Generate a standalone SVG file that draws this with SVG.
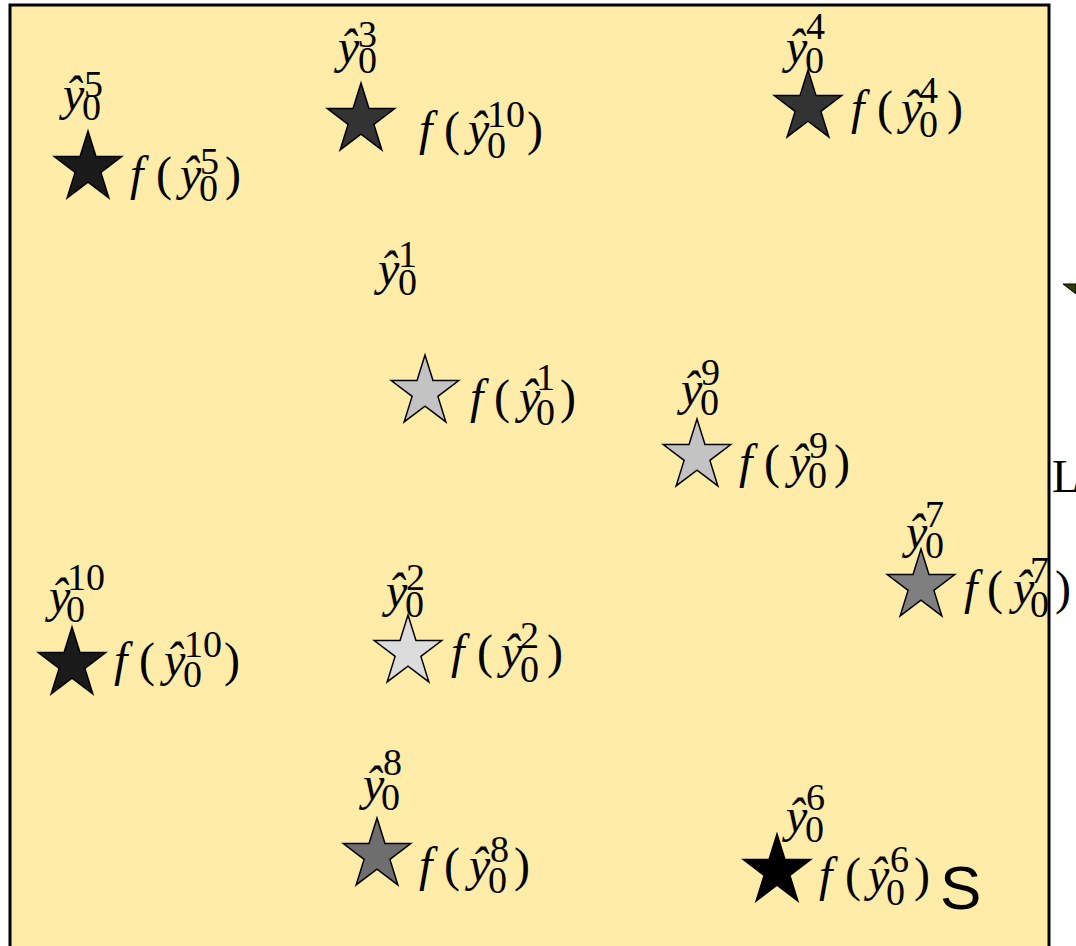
<svg xmlns="http://www.w3.org/2000/svg" xmlns:xlink="http://www.w3.org/1999/xlink" width="1076" height="946" viewBox="0 0 1076 946">
<style>
.t{font-family:"Liberation Serif","Times New Roman",serif;font-size:48px;fill:#000}
.i{font-style:italic}
.s{font-size:38px;font-style:normal}
.st{stroke:#000;stroke-width:1.5;stroke-linejoin:miter}
</style>
<defs>
<path id="star" d="M0,-37 L7.97,-11.43 L33.76,-11.43 L12.9,4.37 L20.87,29.93 L0,14.13 L-20.87,29.93 L-12.9,4.37 L-33.76,-11.43 L-7.97,-11.43 Z"/>
</defs>
<rect width="1076" height="946" fill="#ffffff"/>
<g id="frame">
<rect x="10" y="5" width="1039" height="960" fill="#ffeca8" stroke="#000" stroke-width="3"/>
</g>
<g id="connectors"></g>

<g id="star5">
<use href="#star" class="st" transform="translate(88,168)" fill="#1a1a1a"/>
<text class="t"><tspan class="i" x="63" y="110">ŷ</tspan><tspan class="s" x="82" y="120">0</tspan><tspan class="s" x="84" y="97">5</tspan></text>
<text class="t"><tspan class="i" x="130" y="190">f</tspan><tspan x="156" y="190">(</tspan><tspan class="i" x="180" y="190">ŷ</tspan><tspan class="s" x="199" y="201">0</tspan><tspan class="s" x="200" y="174">5</tspan><tspan x="225" y="190">)</tspan></text>
</g>

<g id="star3">
<use href="#star" class="st" transform="translate(361,120)" fill="#333333"/>
<text class="t"><tspan class="i" x="338" y="63">ŷ</tspan><tspan class="s" x="358" y="73">0</tspan><tspan class="s" x="358" y="47">3</tspan></text>
<text class="t"><tspan class="i" x="419" y="145">f</tspan><tspan x="444" y="145">(</tspan><tspan class="i" x="468" y="145">ŷ</tspan><tspan class="s" x="487" y="158">0</tspan><tspan class="s" x="487" y="127">10</tspan><tspan x="527" y="145">)</tspan></text>
</g>

<g id="star4">
<use href="#star" class="st" transform="translate(808,107)" fill="#333333"/>
<text class="t"><tspan class="i" x="786" y="63">ŷ</tspan><tspan class="s" x="805" y="73">0</tspan><tspan class="s" x="806" y="39">4</tspan></text>
<text class="t"><tspan class="i" x="851" y="124">f</tspan><tspan x="877" y="124">(</tspan><tspan class="i" x="901" y="124">ŷ</tspan><tspan class="s" x="919" y="137">0</tspan><tspan class="s" x="919" y="103">4</tspan><tspan x="947" y="124">)</tspan></text>
</g>

<g id="star1">
<use href="#star" class="st" transform="translate(425,392)" fill="#c3c3c3"/>
<text class="t"><tspan class="i" x="378" y="285">ŷ</tspan><tspan class="s" x="398" y="295">0</tspan><tspan class="s" x="398" y="267">1</tspan></text>
<text class="t"><tspan class="i" x="470" y="413">f</tspan><tspan x="494" y="413">(</tspan><tspan class="i" x="519" y="413">ŷ</tspan><tspan class="s" x="536" y="425">0</tspan><tspan class="s" x="536" y="390">1</tspan><tspan x="560" y="413">)</tspan></text>
</g>

<g id="star9">
<use href="#star" class="st" transform="translate(697,456)" fill="#c3c3c3"/>
<text class="t"><tspan class="i" x="681" y="405">ŷ</tspan><tspan class="s" x="700" y="415">0</tspan><tspan class="s" x="701" y="385">9</tspan></text>
<text class="t"><tspan class="i" x="739" y="478">f</tspan><tspan x="764" y="478">(</tspan><tspan class="i" x="789" y="478">ŷ</tspan><tspan class="s" x="808" y="488">0</tspan><tspan class="s" x="809" y="458">9</tspan><tspan x="834" y="478">)</tspan></text>
</g>

<g id="star7">
<use href="#star" class="st" transform="translate(921,586)" fill="#7f7f7f"/>
<text class="t"><tspan class="i" x="906" y="548">ŷ</tspan><tspan class="s" x="925" y="558">0</tspan><tspan class="s" x="925" y="527">7</tspan></text>
<text class="t"><tspan class="i" x="964" y="604">f</tspan><tspan x="987" y="604">(</tspan><tspan class="i" x="1013" y="604">ŷ</tspan><tspan class="s" x="1030" y="617">0</tspan><tspan class="s" x="1030" y="583">7</tspan><tspan x="1055" y="604">)</tspan></text>
</g>

<g id="star10">
<use href="#star" class="st" transform="translate(72,664)" fill="#1a1a1a"/>
<text class="t"><tspan class="i" x="49" y="612">ŷ</tspan><tspan class="s" x="66" y="622">0</tspan><tspan class="s" x="67" y="590">10</tspan></text>
<text class="t"><tspan class="i" x="114" y="676">f</tspan><tspan x="139" y="676">(</tspan><tspan class="i" x="164" y="676">ŷ</tspan><tspan class="s" x="183" y="687">0</tspan><tspan class="s" x="184" y="657">10</tspan><tspan x="224" y="676">)</tspan></text>
</g>

<g id="star2">
<use href="#star" class="st" transform="translate(408,652)" fill="#dcdcdc"/>
<text class="t"><tspan class="i" x="386" y="607">ŷ</tspan><tspan class="s" x="405" y="617">0</tspan><tspan class="s" x="406" y="590">2</tspan></text>
<text class="t"><tspan class="i" x="451" y="668">f</tspan><tspan x="477" y="668">(</tspan><tspan class="i" x="501" y="668">ŷ</tspan><tspan class="s" x="520" y="682">0</tspan><tspan class="s" x="520" y="648">2</tspan><tspan x="547" y="668">)</tspan></text>
</g>

<g id="star8">
<use href="#star" class="st" transform="translate(377,855)" fill="#6e6e6e"/>
<text class="t"><tspan class="i" x="363" y="800">ŷ</tspan><tspan class="s" x="381" y="810">0</tspan><tspan class="s" x="383" y="775">8</tspan></text>
<text class="t"><tspan class="i" x="419" y="881">f</tspan><tspan x="444" y="881">(</tspan><tspan class="i" x="469" y="881">ŷ</tspan><tspan class="s" x="488" y="893">0</tspan><tspan class="s" x="490" y="862">8</tspan><tspan x="514" y="881">)</tspan></text>
</g>

<g id="star6">
<use href="#star" class="st" transform="translate(777,871)" fill="#000000"/>
<text class="t"><tspan class="i" x="786" y="832">ŷ</tspan><tspan class="s" x="805" y="842">0</tspan><tspan class="s" x="806" y="810">6</tspan></text>
<text class="t"><tspan class="i" x="819" y="891">f</tspan><tspan x="845" y="891">(</tspan><tspan class="i" x="868" y="891">ŷ</tspan><tspan class="s" x="886" y="905">0</tspan><tspan class="s" x="890" y="872">6</tspan><tspan x="914" y="891">)</tspan></text>
</g>

<g id="extra">
<text x="940" y="909" font-family="'Liberation Sans',Arial,sans-serif" font-size="62" fill="#000">S</text>
<text x="1052" y="492" font-family="'Liberation Serif','Times New Roman',serif" font-size="46" fill="#000">L</text>
<polygon points="1063,284 1076,284 1076,294" fill="#2f3d00" stroke="#000" stroke-width="1"/>
</g>
</svg>
